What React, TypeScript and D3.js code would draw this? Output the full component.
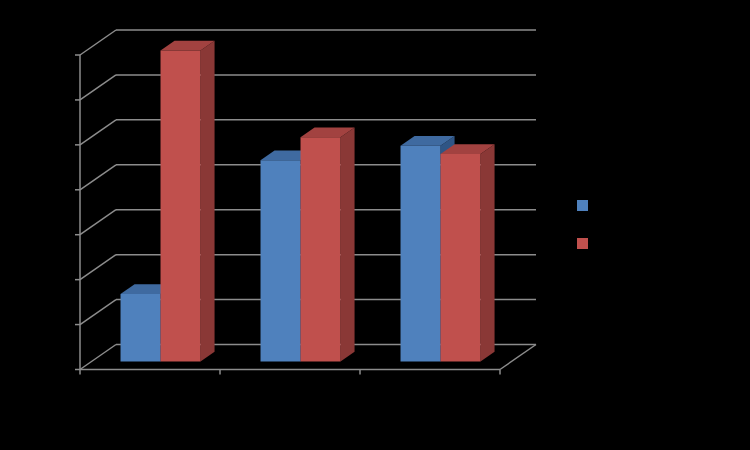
import React from "react";
import * as d3 from "d3";

const categories = ["Category 1", "Category 2", "Category 3"];
const seriesNames = ["Series 1", "Series 2"];
const series1 = [1.5, 4.48, 4.8];
const series2 = [6.92, 4.99, 4.62];
const tickValues = [0, 1, 2, 3, 4, 5, 6, 7];

const W = 750;
const H = 450;
const DX = 36;
const DY = -25;
const F0 = 0.32;
const F1 = 0.71;

const palette = [
  { front: "#4F81BD", top: "#3F6AA0", side: "#2F5585" },
  { front: "#C0504D", top: "#A24240", side: "#8A3836" },
];

export default function App() {
  const x = d3.scaleBand<string>().domain(categories).range([80, 500]).padding(0);
  const xs = d3.scaleBand<string>().domain(seriesNames).range([29, 109]).padding(0);
  const y = d3.scaleLinear().domain([0, 7]).range([369.5, 55]);
  const values = [series1, series2];

  const proj = (px: number, v: number, f: number): [number, number] => [px + DX * f, y(v) + DY * f];
  const poly = (pts: [number, number][]) => pts.map((p) => p.join(",")).join(" ");
  const grid = "#8C8C8C";
  const x0 = 80;
  const x1 = 500;

  const bars: React.ReactNode[] = [];
  categories.forEach((c, ci) => {
    seriesNames.forEach((s, si) => {
      const v = values[si][ci];
      const l = (x(c) ?? 0) + (xs(s) ?? 0);
      const r = l + xs.bandwidth();
      const col = palette[si];
      const front = [proj(l, 0, F0), proj(r, 0, F0), proj(r, v, F0), proj(l, v, F0)] as [number, number][];
      const top = [proj(l, v, F0), proj(r, v, F0), proj(r, v, F1), proj(l, v, F1)] as [number, number][];
      const side = [proj(r, 0, F0), proj(r, 0, F1), proj(r, v, F1), proj(r, v, F0)] as [number, number][];
      bars.push(
        <g key={`${c}-${s}`}>
          <polygon points={poly(side)} fill={col.side} />
          <polygon points={poly(top)} fill={col.top} />
          <polygon points={poly(front)} fill={col.front} />
        </g>
      );
    });
  });

  return (
    <svg width={W} height={H} style={{ position: "absolute", left: 0, top: 0, display: "block" }}>
      <rect x={0} y={0} width={W} height={H} fill="#000" />
      {tickValues.map((t) => {
        const a = proj(x0, t, 0);
        const b = proj(x0, t, 1);
        const c = proj(x1, t, 1);
        return (
          <g key={`g${t}`} stroke={grid} strokeWidth={1.5} fill="none">
            <line x1={a[0]} y1={a[1]} x2={b[0]} y2={b[1]} />
            <line x1={b[0]} y1={b[1]} x2={c[0]} y2={c[1]} />
            <line x1={a[0] - 5} y1={a[1]} x2={a[0]} y2={a[1]} />
          </g>
        );
      })}
      <g stroke={grid} strokeWidth={1.5} fill="none">
        <line x1={x0} y1={y(0)} x2={x1} y2={y(0)} />
        <line x1={x1} y1={y(0)} x2={proj(x1, 0, 1)[0]} y2={proj(x1, 0, 1)[1]} />
        <line x1={x0} y1={y(7)} x2={x0} y2={y(0)} />
        {[...categories.map((c) => x(c) ?? 0), x1].map((px, i) => (
          <line key={`xt${i}`} x1={px} y1={y(0)} x2={px} y2={y(0) + 5} />
        ))}
      </g>
      {bars}
      {seriesNames.map((s, i) => (
        <rect key={s} x={577} y={200 + i * 38} width={11} height={11} fill={palette[i].front} />
      ))}
    </svg>
  );
}
